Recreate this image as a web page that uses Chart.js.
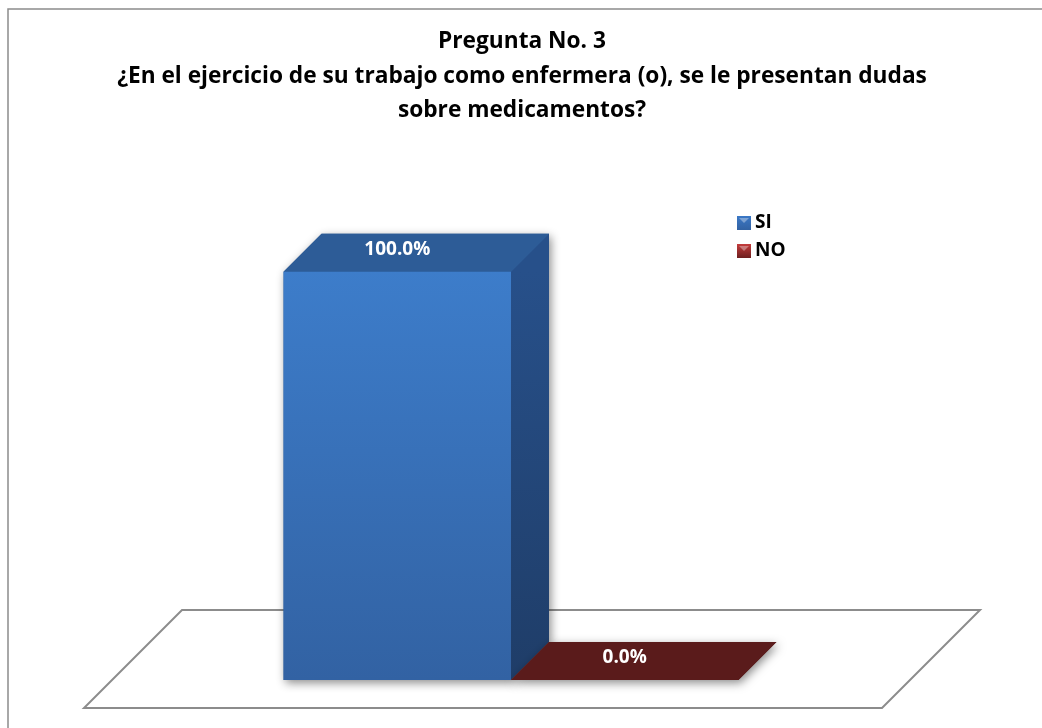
<!DOCTYPE html>
<html>
<head>
<meta charset="utf-8">
<title>Pregunta No. 3</title>
<script src="https://cdn.jsdelivr.net/npm/chart.js@4/dist/chart.umd.min.js"></script>
<style>
  html, body { margin: 0; padding: 0; background: #ffffff; }
  #wrap { width: 1042px; height: 728px; }
</style>
</head>
<body>
<div id="wrap"><canvas id="preguntaChart" width="1042" height="728"></canvas></div>
<script>
// answers to question 3
const categories = [''];
const seriesNames = ['SI', 'NO'];
const siValues = [100];
const noValues = [0];
const titleLines = [
    'Pregunta No. 3',
    '¿En el ejercicio de su trabajo como enfermera (o), se le presentan dudas',
    'sobre medicamentos?'
];

const FONT = "'Open Sans', 'DejaVu Sans', sans-serif";
const FRAME_LEFT = 8, FRAME_TOP = 9, FRAME_RIGHT = 1036;
const DEPTH = 38;          // how far the bars recede (px, diagonal)
const FLOOR_FRONT = 28;    // floor edge in front of the bars
const FLOOR_BACK = 70;     // floor edge behind the bars

// colours per series: front top/bottom, top face, side face, legend swatch
const palette = [
    { front: ['#3f82d2', '#3262a3'], top: '#2d5c97', side: ['#27508a', '#1f3d68'], key: '#3b78c6' },
    { front: ['#8e2b2b', '#6e1f1f'], top: '#5a1b1b', side: ['#4a1515', '#3a1010'], key: '#c43c3c' }
];

function frontFill(i) {
    return function (ctx) {
        const area = ctx.chart.chartArea;
        if (!area) return palette[i].front[1];
        const g = ctx.chart.ctx.createLinearGradient(0, area.top, 0, area.bottom);
        g.addColorStop(0, palette[i].front[0]);
        g.addColorStop(1, palette[i].front[1]);
        return g;
    };
}

function poly(ctx, pts) {
    ctx.beginPath();
    ctx.moveTo(pts[0][0], pts[0][1]);
    for (let k = 1; k < pts.length; k++) ctx.lineTo(pts[k][0], pts[k][1]);
    ctx.closePath();
}

// outer frame, floor and the extruded faces of each bar
const boxPlugin = {
    id: 'box3d',
    afterLayout(chart) {
        // centre the title on the whole frame, not on the padded plot
        if (chart.titleBlock) {
            chart.titleBlock.left = FRAME_LEFT;
            chart.titleBlock.right = FRAME_RIGHT;
            chart.titleBlock.width = FRAME_RIGHT - FRAME_LEFT;
        }
    },
    beforeDatasetsDraw(chart) {
        const ctx = chart.ctx;
        const a = chart.chartArea;
        ctx.save();

        // chart frame
        ctx.strokeStyle = '#8c8c8c';
        ctx.lineWidth = 1.5;
        ctx.strokeRect(FRAME_LEFT, FRAME_TOP, 1200, 1000);

        // floor
        const yf = a.bottom + FLOOR_FRONT, yb = a.bottom - FLOOR_BACK;
        poly(ctx, [
            [a.left - FLOOR_FRONT, yf], [a.right - FLOOR_FRONT, yf],
            [a.right + FLOOR_BACK, yb], [a.left + FLOOR_BACK, yb]
        ]);
        ctx.fillStyle = '#ffffff';
        ctx.fill();
        ctx.strokeStyle = '#8c8c8c';
        ctx.lineWidth = 2;
        ctx.stroke();

        chart.data.datasets.forEach((ds, i) => {
            chart.getDatasetMeta(i).data.forEach(bar => {
                const l = bar.x - bar.width / 2, r = bar.x + bar.width / 2;
                const t = bar.y, b = bar.base;
                const outline = [[l, b], [l, t], [l + DEPTH, t - DEPTH], [r + DEPTH, t - DEPTH], [r + DEPTH, b - DEPTH], [r, b]];

                // soft shadow under the whole block
                ctx.save();
                ctx.shadowColor = 'rgba(0,0,0,0.45)';
                ctx.shadowBlur = 10;
                ctx.shadowOffsetX = 2;
                ctx.shadowOffsetY = 3;
                poly(ctx, outline);
                ctx.fillStyle = palette[i].top;
                ctx.fill();
                ctx.restore();

                // right side face
                if (b - t > 0.5) {
                    poly(ctx, [[r, t], [r + DEPTH, t - DEPTH], [r + DEPTH, b - DEPTH], [r, b]]);
                    const gs = ctx.createLinearGradient(0, t, 0, b);
                    gs.addColorStop(0, palette[i].side[0]);
                    gs.addColorStop(1, palette[i].side[1]);
                    ctx.fillStyle = gs;
                    ctx.fill();
                }

                // top face
                poly(ctx, [[l, t], [l + DEPTH, t - DEPTH], [r + DEPTH, t - DEPTH], [r, t]]);
                ctx.fillStyle = palette[i].top;
                ctx.fill();
            });
        });
        ctx.restore();
    },
    afterDatasetsDraw(chart) {
        const ctx = chart.ctx;
        ctx.save();
        ctx.font = 'bold 19px ' + FONT;
        ctx.fillStyle = '#ffffff';
        ctx.textAlign = 'center';
        ctx.textBaseline = 'middle';
        chart.data.datasets.forEach((ds, i) => {
            chart.getDatasetMeta(i).data.forEach((bar, j) => {
                const label = ds.data[j].toFixed(1) + '%';
                ctx.fillText(label, bar.x, bar.y - DEPTH / 2 - 3);
            });
        });
        ctx.restore();
    },
    afterDraw(chart) {
        // legend in the upper right of the plot
        const ctx = chart.ctx;
        ctx.save();
        ctx.font = 'bold 19px ' + FONT;
        ctx.textBaseline = 'middle';
        chart.data.datasets.forEach((ds, i) => {
            const y = 223 + i * 28;
            const g = ctx.createLinearGradient(0, y - 7, 0, y + 7);
            g.addColorStop(0, palette[i].key);
            g.addColorStop(1, palette[i].front[1]);
            ctx.fillStyle = g;
            ctx.fillRect(737, y - 7, 14, 14);
            ctx.fillStyle = 'rgba(255,255,255,0.35)';
            poly(ctx, [[739, y - 5], [749, y - 5], [744, y]]);
            ctx.fill();
            ctx.fillStyle = '#000000';
            ctx.fillText(ds.label, 755, y);
        });
        ctx.restore();
    }
};

new Chart(document.getElementById('preguntaChart'), {
    type: 'bar',
    data: {
        labels: categories,
        datasets: [
            { label: seriesNames[0], data: siValues, backgroundColor: frontFill(0), borderWidth: 0 },
            { label: seriesNames[1], data: noValues, backgroundColor: frontFill(1), borderWidth: 0 }
        ]
    },
    options: {
        responsive: false,
        animation: false,
        events: [],
        layout: { padding: { left: 112, right: 132, bottom: 48, top: 0 } },
        categoryPercentage: 0.57,
        barPercentage: 1,
        scales: {
            x: { display: false },
            y: { display: false, min: 0, max: 120 }
        },
        plugins: {
            legend: { display: false },
            tooltip: { enabled: false },
            title: {
                display: true,
                text: titleLines,
                color: '#000000',
                font: { family: FONT, size: 22.7, weight: 'bold', lineHeight: 1.5 },
                padding: { top: 25, bottom: 63 }
            }
        }
    },
    plugins: [boxPlugin]
});
</script>
</body>
</html>
